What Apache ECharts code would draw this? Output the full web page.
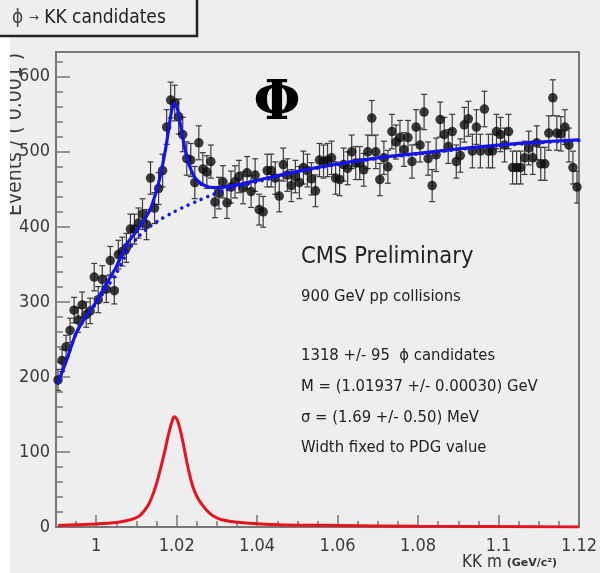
<!DOCTYPE html>
<html><head><meta charset="utf-8">
<script src="https://cdn.jsdelivr.net/npm/echarts@6/dist/echarts.min.js"></script>
<style>html,body{margin:0;padding:0;background:#fff;} #c{width:600px;height:573px;}</style>
</head><body><div id="c"></div>
<script>
// ---- data ----
const firstBinCenter = 0.9905;   // GeV, bins of 0.001
const binWidth = 0.001;
const counts = [196,222,240,262,289,276,296,283,288,333,
  303,330,317,355,315,363,367,372,397,397,
  405,417,403,465,425,451,475,533,569,565,
  547,523,491,489,459,512,477,473,487,433,
  445,460,432,453,460,467,452,472,447,469,
  423,420,475,475,465,441,483,469,455,467,
  459,479,475,464,448,489,487,489,492,465,
  463,483,478,500,485,485,476,500,545,500,
  463,492,480,527,513,519,503,519,487,533,
  509,553,491,455,496,543,523,507,527,487,
  495,536,544,501,533,501,557,501,501,527,
  523,509,527,479,479,479,492,505,492,512,
  484,484,525,572,525,524,533,509,479,453];
const fitTotal = [[0.9905,192],[0.993,228],[0.995,258],[0.9975,281],[1.000,300],[1.0025,324],[1.005,347],[1.0075,376],[1.010,394],[1.012,410],[1.0135,424],[1.0148,445],[1.0158,465],[1.0167,488],[1.0175,512],[1.0182,537],[1.0188,556],[1.0194,565],[1.0201,559],[1.0208,540],[1.0216,516],[1.0224,496],[1.0232,481],[1.0245,466],[1.026,458],[1.028,453],[1.030,452],[1.033,454],[1.036,457],[1.04,462],[1.05,474],[1.06,484],[1.07,492],[1.08,498],[1.09,504],[1.10,509],[1.11,513],[1.12,516]];
const fitBackground = [[0.9905,192],[0.993,228],[0.995,258],[0.9975,280],[1.000,298],[1.0025,318],[1.005,338],[1.0075,364],[1.010,384],[1.013,399],[1.016,410],[1.019,419],[1.022,427],[1.025,434],[1.028,441],[1.031,447],[1.034,452],[1.037,456],[1.04,460],[1.05,473],[1.06,483],[1.07,491],[1.08,497],[1.09,503],[1.10,508],[1.11,512],[1.12,515]];
const fitSignal = [[0.9905,2],[0.995,3],[1.000,4],[1.005,6],[1.008,9],[1.0105,14],[1.012,22],[1.013,30],[1.014,42],[1.015,58],[1.016,78],[1.017,100],[1.018,124],[1.0188,140],[1.0194,147],[1.0201,143],[1.0208,131],[1.0216,112],[1.0224,90],[1.0232,70],[1.024,54],[1.025,41],[1.026,32],[1.0275,22],[1.029,15],[1.031,10],[1.034,7],[1.038,5],[1.045,3],[1.06,2],[1.08,1],[1.12,0]];
const xTickLabels = [1,1.02,1.04,1.06,1.08,1.1,1.12];
const xMinorTicks = [0.995,1.005,1.01,1.015,1.025,1.03,1.035,1.045,1.05,1.055,1.065,1.07,1.075,1.085,1.09,1.095,1.105,1.11,1.115];
const yTickLabels = [0,100,200,300,400,500,600];
const yMinorTicks = [20,40,60,80,120,140,160,180,220,240,260,280,320,340,360,380,420,440,460,480,520,540,560,580,620];
const infoLines = ['900 GeV pp collisions','','1318 +/- 95  \u03d5 candidates','M = (1.01937 +/- 0.00030) GeV','\u03c3 = (1.69 +/- 0.50) MeV','Width fixed to PDG value'];

// ---- chart ----
const FONT = "'Liberation Sans Narrow','DejaVu Sans Condensed','Open Sans',sans-serif";
const pts = counts.map((c,i)=>[+(firstBinCenter+i*binWidth).toFixed(4), c, Math.sqrt(c)]);
const chart = echarts.init(document.getElementById('c'), null, {renderer:'canvas'});
const axisCol = '#777';
const infoGraphics = [];
infoLines.forEach((t,k)=>{
  if(!t) return;
  const y = k===0 ? 297 : 356 + (k-2)*30.7;
  infoGraphics.push({type:'text', x:301, y:y, z:50,
    style:{text:t, font:'16.5px '+FONT, fill:'#222', verticalAlign:'middle'}});
});
const option = {
  backgroundColor: '#eeeeee',
  animation: false,
  grid: {left:56, right:13, top:52, bottom:46, show:true, borderColor:axisCol, borderWidth:2, backgroundColor:'transparent'},
  xAxis: [{
    type:'value', min:0.99, max:1.12, position:'bottom',
    axisLine:{show:true, lineStyle:{color:axisCol, width:2}},
    axisTick:{show:true, inside:true, length:12, customValues:xTickLabels, lineStyle:{color:axisCol, width:1.5}},
    axisLabel:{customValues:xTickLabels, formatter:v=>String(+(+v).toFixed(2)), fontSize:18, color:'#3a3a3a', margin:10, fontFamily:FONT},
    splitLine:{show:false}
  },{
    type:'value', min:0.99, max:1.12, position:'bottom',
    axisLine:{show:false},
    axisTick:{show:true, inside:true, length:6, customValues:xMinorTicks, lineStyle:{color:axisCol, width:1.5}},
    axisLabel:{show:false}, splitLine:{show:false}
  }],
  yAxis: [{
    type:'value', min:0, max:633, position:'left',
    axisLine:{show:true, lineStyle:{color:axisCol, width:2}},
    axisTick:{show:true, inside:true, length:14, customValues:yTickLabels, lineStyle:{color:axisCol, width:1.5}},
    axisLabel:{customValues:yTickLabels, fontSize:18, color:'#3a3a3a', margin:6, fontFamily:FONT},
    splitLine:{show:false}
  },{
    type:'value', min:0, max:633, position:'left',
    axisLine:{show:false},
    axisTick:{show:true, inside:true, length:7, customValues:yMinorTicks, lineStyle:{color:axisCol, width:1.5}},
    axisLabel:{show:false}, splitLine:{show:false}
  }],
  series: [
    {type:'line', data:fitSignal, xAxisIndex:0, yAxisIndex:0, smooth:0.3, showSymbol:false, clip:true, z:3,
     lineStyle:{color:'#e5141e', width:3}},
    {type:'custom', xAxisIndex:0, yAxisIndex:0, data:pts, z:4, clip:true,
     renderItem:(params, api)=>{
       const x=api.value(0), y=api.value(1), e=api.value(2);
       const t=api.coord([x,y+e]), b=api.coord([x,y-e]);
       const cap=3, st={stroke:'#3c3c3c', lineWidth:1.2};
       return {type:'group', children:[
         {type:'line', shape:{x1:t[0],y1:t[1],x2:b[0],y2:b[1]}, style:st},
         {type:'line', shape:{x1:t[0]-cap,y1:t[1],x2:t[0]+cap,y2:t[1]}, style:st},
         {type:'line', shape:{x1:b[0]-cap,y1:b[1],x2:b[0]+cap,y2:b[1]}, style:st}
       ]};
     }},
    {type:'scatter', data:pts.map(p=>[p[0],p[1]]), symbol:'circle', symbolSize:9.5, z:5,
     itemStyle:{color:'#0d0d0d'}},
    {type:'line', data:fitBackground, smooth:0.3, showSymbol:false, z:6, clip:true,
     lineStyle:{color:'#1414e6', width:3.5, type:[0.1,7], cap:'round'}},
    {type:'line', data:fitTotal, smooth:0.3, showSymbol:false, z:7, clip:true,
     lineStyle:{color:'#1414e6', width:3.2}}
  ],
  graphic: [
    {type:'text', x:16, y:216, rotation:Math.PI/2, z:90,
     style:{text:'Events / ( 0.001 )', font:'21px '+FONT, fill:'#3a3a3a', align:'left', verticalAlign:'middle'}},
    {type:'rect', shape:{x:0,y:0,width:10,height:573}, style:{fill:'#ffffff'}, z:100},
    {type:'rect', shape:{x:-4,y:-4,width:201,height:40}, style:{fill:'#eeeeee', stroke:'#222', lineWidth:2.5}, z:110},
    {type:'text', x:12, y:18, z:111,
     style:{text:'{a|\u03d5} {b|\u2192} KK candidates', font:'19px '+FONT, fill:'#222', verticalAlign:'middle',
       rich:{a:{font:'19px '+FONT, fill:'#444'}, b:{font:'12px DejaVu Sans', fill:'#444'}}}},
    {type:'text', x:277, y:105, z:50,
     style:{text:'\u03a6', font:'bold 54px "DejaVu Serif", serif', fill:'#000', align:'center', verticalAlign:'middle'}},
    {type:'text', x:301, y:257, z:50,
     style:{text:'CMS Preliminary', font:'23.5px '+FONT, fill:'#222', verticalAlign:'middle'}},
    ...infoGraphics,
    {type:'text', x:462, y:563, z:50,
     style:{text:'KK m {s|(GeV/c\u00b2)}', font:'17px '+FONT, fill:'#333', verticalAlign:'middle',
       rich:{s:{font:'bold 11px DejaVu Sans', fill:'#333'}}}}
  ]
};
chart.setOption(option);
</script></body></html>
